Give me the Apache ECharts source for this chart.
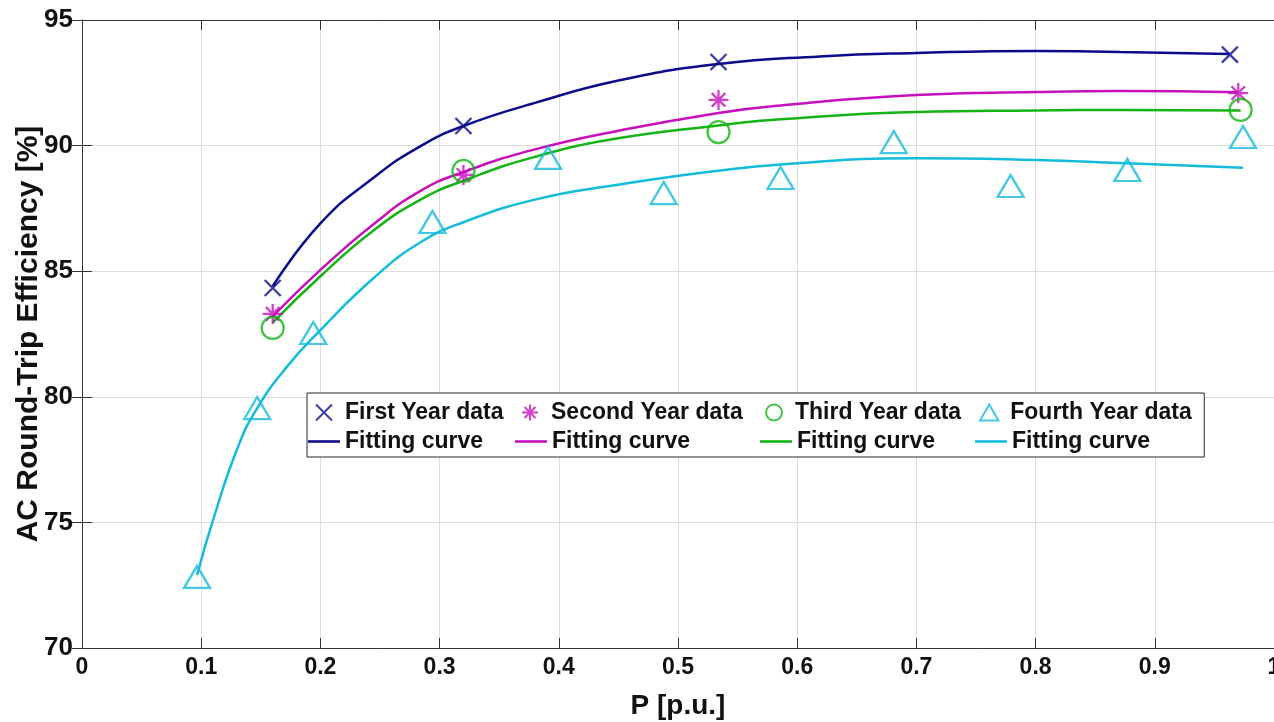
<!DOCTYPE html>
<html>
<head>
<meta charset="utf-8">
<script src="https://cdn.jsdelivr.net/npm/echarts@6/dist/echarts.min.js"></script>
<style>
  html, body { margin: 0; padding: 0; background: #fff; }
  #chart { width: 1274px; height: 722px; }
</style>
</head>
<body>
<div id="chart"></div>
<script>
// measured data points
var year1X = [0.16, 0.32, 0.534, 0.963];
var year1Y = [84.33, 90.78, 93.33, 93.62];
var year2X = [0.16, 0.32, 0.534, 0.970];
var year2Y = [83.3, 88.83, 91.82, 92.09];
var year3X = [0.16, 0.32, 0.534, 0.972];
var year3Y = [82.74, 88.99, 90.54, 91.42];
var year4X = [0.0965, 0.147, 0.194, 0.294, 0.391, 0.488, 0.586, 0.681, 0.779, 0.877, 0.974];
var year4Y = [72.83, 79.55, 82.54, 86.96, 89.51, 88.11, 88.71, 90.14, 88.39, 89.03, 90.34];

// fitting curves
var fit1X = [0.16, 0.2, 0.244, 0.284, 0.32, 0.38, 0.451, 0.534, 0.619, 0.7, 0.8, 0.871, 0.963];
var fit1Y = [84.4, 86.9, 88.7, 89.98, 90.78, 91.7, 92.6, 93.25, 93.55, 93.69, 93.77, 93.73, 93.65];
var fit2X = [0.16, 0.2, 0.244, 0.284, 0.32, 0.38, 0.451, 0.534, 0.586, 0.7, 0.8, 0.871, 0.970];
var fit2Y = [83.2, 85.05, 86.85, 88.2, 88.95, 89.85, 90.6, 91.3, 91.6, 92.01, 92.13, 92.17, 92.12];
var fit3X = [0.16, 0.2, 0.244, 0.284, 0.32, 0.38, 0.451, 0.534, 0.586, 0.7, 0.8, 0.871, 0.972];
var fit3Y = [82.95, 84.8, 86.6, 87.85, 88.6, 89.55, 90.3, 90.8, 91.05, 91.34, 91.4, 91.42, 91.4];
var fit4X = [0.0965, 0.11, 0.13, 0.147, 0.172, 0.2, 0.244, 0.284, 0.32, 0.38, 0.451, 0.534, 0.586, 0.7, 0.8, 0.871, 0.974];
var fit4Y = [72.9, 75.1, 77.9, 79.55, 81.2, 82.65, 84.7, 86.15, 86.95, 87.85, 88.45, 89.0, 89.25, 89.5, 89.43, 89.31, 89.12];

var xTicks = [0, 0.1, 0.2, 0.3, 0.4, 0.5, 0.6, 0.7, 0.8, 0.9, 1];
var yTicks = [70, 75, 80, 85, 90, 95];

var names = ['First Year data', 'Second Year data', 'Third Year data', 'Fourth Year data'];
var fitNames = ['Fitting curve 1', 'Fitting curve 2', 'Fitting curve 3', 'Fitting curve 4'];
var colors = ['#0b0b8c', '#c80fbc', '#14b414', '#14bcdc'];

var font = "'Liberation Sans', Arial, sans-serif";

function pairs(xs, ys) {
  var list = [];
  for (var i = 0; i < xs.length; i++) list.push([xs[i], ys[i]]);
  return list;
}

var symX = 'path://M0,0L10,10M10,0L0,10';
var symStar = 'path://M5,0L5,10M0,5L10,5M1.6,1.6L8.4,8.4M8.4,1.6L1.6,8.4';
var symTri = 'path://M5,0L10,8.66L0,8.66Z';
var symLine = 'path://M0,0L32,0L32,2.6L0,2.6Z';

function scatterSeries(name, xs, ys, color, symbol, size) {
  return {
    name: name,
    type: 'scatter',
    data: pairs(xs, ys),
    symbol: symbol,
    symbolSize: size,
    z: 3,
    itemStyle: { color: 'rgba(0,0,0,0)', borderColor: color, borderWidth: 2.3 }
  };
}

function fitSeries(name, xs, ys, color) {
  return {
    name: name,
    type: 'line',
    data: pairs(xs, ys),
    smooth: 0.5,
    symbol: 'none',
    showSymbol: false,
    z: 2,
    lineStyle: { color: color, width: 2.5 },
    itemStyle: { color: color }
  };
}

// legend column text widths (row 1 markers, row 2 lines)
var markWidths = [176, 214, 184, 190];
var lineWidths = [170, 208, 178, 180];

var chart = echarts.init(document.getElementById('chart'));

var legendData = names.map(function (n, i) {
  return { name: n, textStyle: { width: markWidths[i] } };
}).concat(fitNames.map(function (n, i) {
  return { name: n, icon: symLine, itemStyle: { color: colors[i], borderWidth: 0 }, textStyle: { width: lineWidths[i] } };
}));

var option = {
  animation: false,
  backgroundColor: '#fff',
  grid: { left: 82, right: 0, top: 20, bottom: 74, containLabel: false, outerBoundsMode: 'none' },
  legend: {
    left: 307, top: 393,
    width: 912,
    orient: 'horizontal',
    padding: [5, 4, 1, 1],
    itemGap: 0,
    itemWidth: 32,
    itemHeight: 16,
    backgroundColor: '#fff',
    borderColor: '#262626',
    borderWidth: 1,
    borderRadius: 0,
    formatter: function (name) {
      return name.indexOf('Fitting') === 0 ? 'Fitting curve' : name;
    },
    textStyle: { fontFamily: font, fontWeight: 'bold', fontSize: 23, color: '#111', lineHeight: 29 },
    data: legendData
  },
  xAxis: [{
    type: 'value',
    min: xTicks[0], max: xTicks[xTicks.length - 1], interval: 0.1,
    name: 'P [p.u.]',
    nameLocation: 'middle',
    nameGap: 44,
    nameMoveOverlap: false,
    nameTextStyle: { fontFamily: font, fontWeight: 'bold', fontSize: 28, color: '#111' },
    axisLine: { show: true, lineStyle: { color: '#333', width: 1 } },
    axisTick: { show: true, inside: true, length: 10, lineStyle: { color: '#333' } },
    axisLabel: { fontFamily: font, fontWeight: 'bold', fontSize: 23, color: '#111', margin: 8 },
    splitLine: { show: true, lineStyle: { color: '#dcdcdc', width: 1 } }
  }, {
    type: 'value', position: 'top',
    min: xTicks[0], max: xTicks[xTicks.length - 1], interval: 0.1,
    axisLine: { show: true, lineStyle: { color: '#333', width: 1 } },
    axisTick: { show: true, inside: true, length: 10, lineStyle: { color: '#333' } },
    axisLabel: { show: false },
    splitLine: { show: false }
  }],
  yAxis: [{
    type: 'value',
    min: yTicks[0], max: yTicks[yTicks.length - 1], interval: 5,
    name: 'AC Round-Trip Efficiency [%]',
    nameLocation: 'middle',
    nameGap: 38,
    nameMoveOverlap: false,
    nameTextStyle: { fontFamily: font, fontWeight: 'bold', fontSize: 30, color: '#111' },
    axisLine: { show: true, lineStyle: { color: '#333', width: 1 } },
    axisTick: { show: true, inside: true, length: 10, lineStyle: { color: '#333' } },
    axisLabel: { fontFamily: font, fontWeight: 'bold', fontSize: 26, color: '#111', margin: 9 },
    splitLine: { show: true, lineStyle: { color: '#dcdcdc', width: 1 } }
  }, {
    type: 'value', position: 'right',
    min: yTicks[0], max: yTicks[yTicks.length - 1], interval: 5,
    axisLine: { show: true, lineStyle: { color: '#333', width: 1 } },
    axisTick: { show: true, inside: true, length: 10, lineStyle: { color: '#333' } },
    axisLabel: { show: false },
    splitLine: { show: false }
  }],
  series: [
    scatterSeries(names[0], year1X, year1Y, colors[0], symX, 16),
    scatterSeries(names[1], year2X, year2Y, colors[1], symStar, 20),
    scatterSeries(names[2], year3X, year3Y, colors[2], 'circle', 22),
    scatterSeries(names[3], year4X, year4Y, colors[3], symTri, [26, 22]),
    fitSeries(fitNames[0], fit1X, fit1Y, colors[0]),
    fitSeries(fitNames[1], fit2X, fit2Y, colors[1]),
    fitSeries(fitNames[2], fit3X, fit3Y, colors[2]),
    fitSeries(fitNames[3], fit4X, fit4Y, colors[3])
  ]
};

chart.setOption(option);
window.onresize = function () { chart.resize(); };
</script>
</body>
</html>
